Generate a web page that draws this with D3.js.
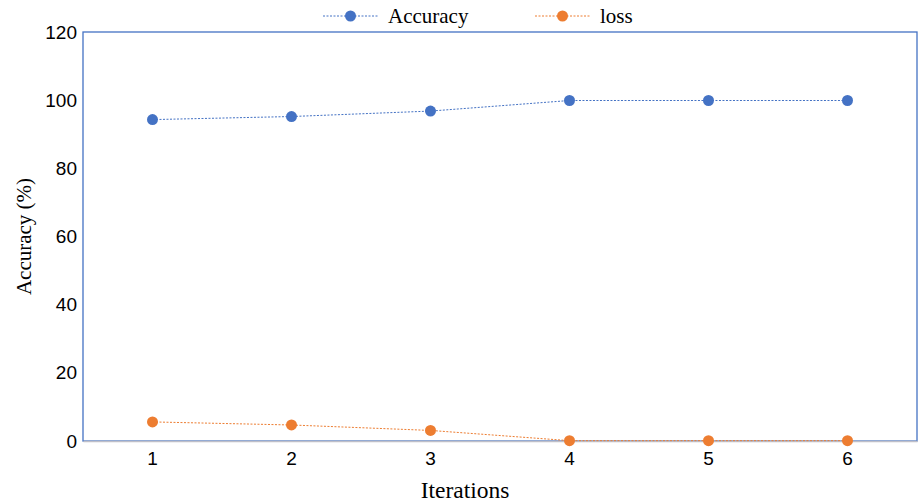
<!DOCTYPE html>
<html>
<head>
<meta charset="utf-8">
<script src="https://cdn.jsdelivr.net/npm/d3@7"></script>
<style>
  html, body { margin: 0; padding: 0; background: #fff; }
  svg { display: block; }
</style>
</head>
<body>
<svg id="chart" width="919" height="503"></svg>
<script>
// Iterations on the x axis and the two measured series
const iterations = ["1", "2", "3", "4", "5", "6"];
const accuracy = [94.3, 95.2, 96.8, 99.9, 99.9, 99.9];
const loss = [5.6, 4.7, 3.1, 0.1, 0.1, 0.1];
const yTicks = [0, 20, 40, 60, 80, 100, 120];

const svg = d3.select("#chart");
const margin = { left: 83, top: 32, right: 2, bottom: 62 };
const W = 919, H = 503;

const x = d3.scaleBand().domain(iterations).range([margin.left, W - margin.right]);
const y = d3.scaleLinear().domain([0, 120]).range([H - margin.bottom, margin.top]);

const tickFont = "'Liberation Sans', Arial, sans-serif";
const titleFont = "'Liberation Serif', 'Times New Roman', serif";

// Plot frame
svg.append("rect")
  .attr("x", margin.left).attr("y", margin.top)
  .attr("width", W - margin.right - margin.left)
  .attr("height", y(0) - margin.top)
  .attr("fill", "none").attr("stroke", "#4472c4").attr("stroke-width", 1.3);

// Y axis labels
const yAxis = svg.append("g")
  .attr("transform", `translate(${margin.left},0)`)
  .call(d3.axisLeft(y).tickValues(yTicks).tickSize(0).tickPadding(6));
yAxis.select(".domain").remove();
yAxis.selectAll("text").attr("font-family", tickFont).attr("font-size", 19).attr("fill", "#000");

// X axis
const xAxis = svg.append("g")
  .attr("transform", `translate(0,${y(0)})`)
  .call(d3.axisBottom(x).tickSize(0).tickPadding(11));
xAxis.select(".domain").attr("stroke", "#bfbfc8").attr("stroke-width", 1.5);
xAxis.selectAll("text").attr("font-family", tickFont).attr("font-size", 19).attr("fill", "#000");

// Axis titles
svg.append("text")
  .attr("x", 465).attr("y", 498)
  .attr("text-anchor", "middle")
  .attr("font-family", titleFont).attr("font-size", 23.5).text("Iterations");
svg.append("text")
  .attr("transform", `translate(31,${(margin.top + y(0)) / 2}) rotate(-90)`)
  .attr("text-anchor", "middle")
  .attr("font-family", titleFont).attr("font-size", 21).text("Accuracy (%)");

const series = [
  { name: "Accuracy", values: accuracy, color: "#4472c4" },
  { name: "loss", values: loss, color: "#ed7d31" }
];
const cx = d => x(d) + x.bandwidth() / 2;

series.forEach(s => {
  const line = d3.line().x((d, i) => cx(iterations[i])).y(d => y(d));
  svg.append("path")
    .datum(s.values)
    .attr("d", line)
    .attr("fill", "none").attr("stroke", s.color)
    .attr("stroke-width", 1).attr("stroke-dasharray", "2,1.5");
  svg.append("g").selectAll("circle")
    .data(s.values).join("circle")
    .attr("cx", (d, i) => cx(iterations[i])).attr("cy", d => y(d))
    .attr("r", 5.5).attr("fill", s.color);
});

// Legend
const legendItems = [
  { x: 323, s: series[0] },
  { x: 535, s: series[1] }
];
const ly = 16;
legendItems.forEach(({ x: lx, s }) => {
  const g = svg.append("g");
  g.append("line").attr("x1", lx).attr("x2", lx + 55).attr("y1", ly).attr("y2", ly)
    .attr("stroke", s.color).attr("stroke-width", 1).attr("stroke-dasharray", "2,1.5");
  g.append("circle").attr("cx", lx + 27.5).attr("cy", ly).attr("r", 5.5).attr("fill", s.color);
  g.append("text").attr("x", lx + 65).attr("y", ly + 7)
    .attr("font-family", titleFont).attr("font-size", 21).text(s.name);
});
</script>
</body>
</html>
